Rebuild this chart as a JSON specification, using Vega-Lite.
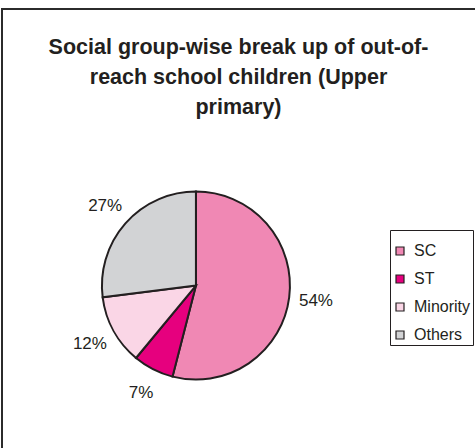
{
  "$schema": "https://vega.github.io/schema/vega-lite/v6.json",
  "width": 473,
  "height": 439,
  "autosize": {"type": "none"},
  "padding": {"left": 2, "top": 9, "right": 0, "bottom": 0},
  "background": "white",
  "config": {
    "view": {"stroke": "#2b2b2b", "strokeWidth": 2, "strokeDash": [473, 912, 439]},
    "font": "Liberation Sans"
  },
  "title": {
    "text": ["Social group-wise break up of out-of-", "reach school children (Upper ", "primary)"],
    "font": "Liberation Sans",
    "fontSize": 21.5,
    "fontWeight": "bold",
    "color": "#231F20",
    "lineHeight": 30,
    "anchor": "middle",
    "offset": -109
  },
  "data": {
    "values": [
      {"group": "SC", "share": 54, "label": "54%", "i": 1},
      {"group": "ST", "share": 7, "label": "7%", "i": 2},
      {"group": "Minority", "share": 12, "label": "12%", "i": 3},
      {"group": "Others", "share": 27, "label": "27%", "i": 4}
    ]
  },
  "encoding": {
    "theta": {"field": "share", "type": "quantitative", "stack": true},
    "order": {"field": "i", "type": "quantitative"},
    "x": {"datum": 0, "type": "quantitative", "scale": {"domain": [-41, 59], "nice": false, "zero": false}, "axis": null},
    "y": {"datum": 0, "type": "quantitative", "scale": {"domain": [-37, 63], "nice": false, "zero": false}, "axis": null}
  },
  "layer": [
    {
      "mark": {"type": "arc", "outerRadius": 94, "stroke": "#231F20", "strokeWidth": 2},
      "encoding": {
        "color": {
          "field": "group",
          "type": "nominal",
          "scale": {"domain": ["SC", "ST", "Minority", "Others"], "range": ["#F088B4", "#E6007E", "#FAD6E6", "#D2D3D5"]},
          "legend": {
            "title": " ",
            "titleFontSize": 6,
            "titlePadding": 5,
            "orient": "none",
            "legendX": 388,
            "legendY": 221,
            "symbolType": "square",
            "symbolSize": 64,
            "symbolStrokeColor": "#231F20",
            "symbolStrokeWidth": 1.2,
            "labelFont": "Liberation Sans",
            "labelFontSize": 16,
            "labelColor": "#231F20",
            "labelOffset": 6,
            "rowPadding": 12,
            "padding": 2,
            "strokeColor": "#231F20"
          }
        }
      }
    },
    {
      "mark": {"type": "text", "radius": 121, "font": "Liberation Sans", "fontSize": 17, "color": "#231F20"},
      "encoding": {"text": {"field": "label", "type": "nominal"}}
    }
  ]
}
